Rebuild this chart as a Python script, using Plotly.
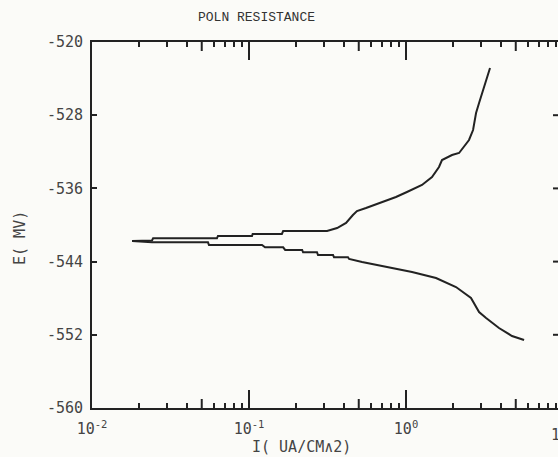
import plotly.graph_objects as go

# ---- data ----
anodic_i = [0.0180, 0.0241, 0.0245, 0.0625, 0.0634, 0.1045, 0.1055, 0.162, 0.165, 0.314,
            0.364, 0.415, 0.459, 0.487, 0.556, 0.673, 0.863, 1.014, 1.264, 1.464,
            1.622, 1.695, 1.963, 2.177, 2.519, 2.673, 2.793, 2.919, 3.050, 3.236, 3.428]
anodic_E = [-541.75, -541.69, -541.45, -541.45, -541.20, -541.20, -540.98, -540.98, -540.66, -540.66,
            -540.33, -539.78, -538.91, -538.47, -538.14, -537.60, -536.94, -536.39, -535.63, -534.75,
            -533.66, -532.90, -532.35, -532.13, -530.71, -529.62, -527.76, -526.67, -525.57, -524.15, -522.84]

cathodic_i = [0.0180, 0.0241, 0.0548, 0.0556, 0.121, 0.1265, 0.165, 0.170, 0.218, 0.221,
              0.271, 0.275, 0.343, 0.348, 0.427, 0.434, 0.525, 0.780, 1.092, 1.553,
              2.081, 2.593, 2.919, 3.236, 3.909, 4.732, 5.649]
cathodic_E = [-541.75, -541.89, -541.89, -542.19, -542.19, -542.44, -542.44, -542.73, -542.73, -542.98,
              -542.98, -543.28, -543.28, -543.53, -543.53, -543.71, -544.04, -544.59, -545.14, -545.79,
              -546.78, -547.98, -549.51, -550.17, -551.26, -552.13, -552.57]

y_ticks = [-560, -552, -544, -536, -528, -520]
x_decades = [0.01, 0.1, 1]
x_decade_labels = ["10<sup>-2</sup>", "10<sup>-1</sup>", "10<sup>0</sup>"]
x_fives = [0.05, 0.5, 5]
x_minor = [m * d for d in [0.01, 0.1, 1] for m in [2, 3, 4, 6, 7, 8, 9]]

title_text = "POLN RESISTANCE"
x_title = "I( UA/CM∧2)"
y_title = "E( MV)"

INK = "#222222"
BG = "#fbfbf8"
MONO = "DejaVu Sans Mono"

fig = go.Figure()
fig.add_trace(go.Scatter(x=anodic_i, y=anodic_E, mode="lines",
                         line=dict(color=INK, width=2), showlegend=False))
fig.add_trace(go.Scatter(x=cathodic_i, y=cathodic_E, mode="lines",
                         line=dict(color=INK, width=2), showlegend=False))

PLOT_W, PLOT_H = 466, 366
xrange = [-2, 0.968]

# medium-length ticks at the 5s (bottom and top frame) and right-hand frame ticks
shapes = []
for v in x_fives:
    shapes.append(dict(type="line", xref="x", yref="paper", x0=v, x1=v,
                       y0=0, y1=9 / PLOT_H, line=dict(color=INK, width=2)))
    shapes.append(dict(type="line", xref="x", yref="paper", x0=v, x1=v,
                       y0=1, y1=1 - 9 / PLOT_H, line=dict(color=INK, width=2)))
for v in y_ticks[1:-1]:
    shapes.append(dict(type="line", xref="paper", yref="y", x0=1 - 5 / PLOT_W, x1=1,
                       y0=v, y1=v, line=dict(color=INK, width=2)))

fig.update_layout(
    width=558, height=457,
    margin=dict(l=92, r=0, t=42, b=49),
    paper_bgcolor=BG, plot_bgcolor=BG,
    showlegend=False,
    shapes=shapes,
    xaxis=dict(
        type="log", range=xrange, showgrid=False, zeroline=False,
        showline=True, linecolor=INK, linewidth=2, mirror="ticks",
        ticks="inside", ticklen=18, tickwidth=2, tickcolor=INK,
        tickmode="array", tickvals=x_decades, ticktext=x_decade_labels,
        tickfont=dict(family=MONO, size=15, color="#444"),
        ticklabelstandoff=6,
        minor=dict(tickmode="array", tickvals=x_minor, ticks="inside",
                   ticklen=5, tickwidth=2, tickcolor=INK, showgrid=False),
    ),
    yaxis=dict(
        range=[-560, -520], showgrid=False, zeroline=False,
        showline=True, linecolor=INK, linewidth=2, mirror=False,
        ticks="inside", ticklen=5, tickwidth=2, tickcolor=INK,
        tickmode="array", tickvals=y_ticks, ticktext=[str(v) for v in y_ticks],
        tickfont=dict(family=MONO, size=15, color="#444"),
        ticklabelstandoff=4,
    ),
    annotations=[
        dict(text=title_text, xref="paper", yref="paper", x=0.354, y=1.068,
             showarrow=False, font=dict(family="Liberation Mono", size=13, color="#333"),
             xanchor="center", yanchor="middle"),
        dict(text=x_title, xref="paper", yref="paper", x=0.4485, y=-0.107,
             showarrow=False, font=dict(family=MONO, size=15, color="#444"),
             xanchor="center", yanchor="middle"),
        dict(text=y_title, xref="paper", yref="paper", x=-0.1545, y=0.4645,
             showarrow=False, textangle=-90, font=dict(family=MONO, size=15, color="#444"),
             xanchor="center", yanchor="middle"),
        dict(text="10<sup>1</sup>", xref="paper", yref="paper", x=1.0107, y=-0.072,
             showarrow=False, font=dict(family=MONO, size=15, color="#444"),
             xanchor="center", yanchor="middle"),
    ],
)

fig.write_html("out.html")
